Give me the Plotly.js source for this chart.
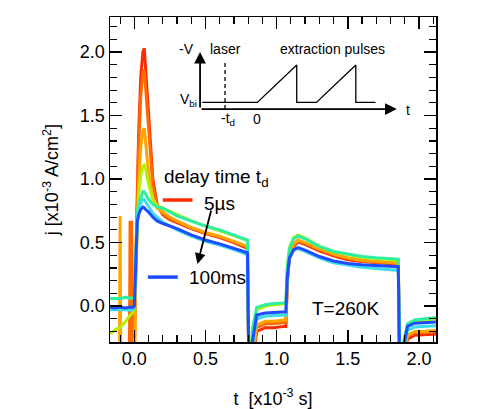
<!DOCTYPE html>
<html>
<head>
<meta charset="utf-8">
<script src="https://cdn.plot.ly/plotly-3.0.1.min.js"></script>
<style>
  html, body { margin: 0; padding: 0; background: #fff; }
  #myPlot { width: 479px; height: 409px; }
</style>
</head>
<body>
<div id="myPlot"></div>
<script>
// time axis [x10^-3 s], shared by all transients
const t = [-0.17, -0.14, -0.105, -0.1, -0.095, -0.06, -0.035, -0.03, -0.02, -0.01,
  0.0, 0.01, 0.02, 0.03, 0.045, 0.06, 0.07, 0.08, 0.1, 0.13,
  0.16, 0.2, 0.25, 0.3, 0.4, 0.5, 0.6, 0.7, 0.795, 0.805,
  0.815, 0.83, 0.86, 0.92, 0.98, 1.05, 1.065, 1.075, 1.09, 1.12,
  1.15, 1.2, 1.3, 1.4, 1.5, 1.6, 1.7, 1.8, 1.855, 1.865,
  1.875, 1.89, 1.92, 1.97, 2.03, 2.12];

// current density j [x10^-3 A/cm^2] for each delay time
const jRed = [-0.5, -0.5, -0.5, -0.5, -0.5, -0.5, -0.5, -0.5, 0.6, -0.5,
  -0.2, 0.35, 0.85, 1.35, 1.8, 2.0, 2.03, 1.85, 1.45, 1.0,
  0.8, 0.72, 0.68, 0.655, 0.61, 0.57, 0.54, 0.5, 0.455, -0.5,
  -0.5, -0.45, -0.2, -0.17, -0.17, -0.16, -0.16, 0.18, 0.38, 0.47,
  0.505, 0.485, 0.435, 0.395, 0.365, 0.35, 0.34, 0.33, 0.33, -0.5,
  -0.5, -0.45, -0.26, -0.23, -0.225, -0.22];
const jOrangeRed = [-0.5, -0.5, -0.5, -0.5, -0.5, -0.5, -0.5, 0.66, 0.66, -0.5,
  -0.5, 0.3, 0.8, 1.25, 1.65, 1.84, 1.86, 1.7, 1.35, 0.95,
  0.78, 0.73, 0.69, 0.665, 0.615, 0.575, 0.545, 0.505, 0.465, -0.5,
  -0.5, -0.45, -0.17, -0.14, -0.14, -0.13, -0.13, 0.2, 0.39, 0.48,
  0.515, 0.495, 0.445, 0.405, 0.375, 0.355, 0.345, 0.335, 0.335, -0.5,
  -0.5, -0.42, -0.24, -0.21, -0.21, -0.2];
const jOrange = [-0.5, -0.5, -0.5, 0.71, -0.5, -0.5, -0.5, -0.5, -0.5, -0.5,
  -0.5, 0.2, 0.6, 0.95, 1.25, 1.38, 1.4, 1.3, 1.05, 0.85,
  0.77, 0.74, 0.7, 0.67, 0.62, 0.58, 0.55, 0.51, 0.47, -0.5,
  -0.5, -0.4, -0.15, -0.12, -0.12, -0.11, -0.11, 0.2, 0.4, 0.49,
  0.52, 0.5, 0.45, 0.41, 0.38, 0.36, 0.35, 0.34, 0.34, -0.5,
  -0.5, -0.4, -0.23, -0.2, -0.2, -0.19];
const jYellowGreen = [-0.22, -0.19, -0.17, -0.165, -0.16, -0.12, -0.08, -0.075, -0.065, -0.05,
  0.0, 0.35, 0.65, 0.88, 1.03, 1.1, 1.11, 1.08, 0.96, 0.84,
  0.79, 0.77, 0.745, 0.715, 0.67, 0.63, 0.595, 0.555, 0.515, -0.5,
  -0.5, -0.2, -0.03, 0.0, 0.01, 0.015, 0.02, 0.3, 0.46, 0.54,
  0.56, 0.535, 0.47, 0.43, 0.405, 0.385, 0.375, 0.365, 0.36, -0.5,
  -0.5, -0.3, -0.15, -0.12, -0.11, -0.1];
const jGreen = [0.06, 0.06, 0.065, 0.06, 0.06, 0.07, 0.06, 0.065, 0.06, 0.06,
  0.07, 0.45, 0.72, 0.8, 0.86, 0.9, 0.9, 0.88, 0.84, 0.8,
  0.78, 0.77, 0.74, 0.71, 0.67, 0.63, 0.6, 0.56, 0.52, -0.5,
  -0.5, -0.18, -0.01, 0.01, 0.02, 0.025, 0.03, 0.3, 0.45, 0.53,
  0.55, 0.53, 0.47, 0.43, 0.41, 0.39, 0.38, 0.37, 0.37, -0.5,
  -0.5, -0.3, -0.14, -0.11, -0.1, -0.09];
const jCyan = [-0.03, -0.03, -0.025, -0.03, -0.03, -0.03, -0.035, -0.03, -0.03, -0.03,
  -0.02, 0.4, 0.68, 0.76, 0.81, 0.84, 0.84, 0.82, 0.78, 0.73,
  0.7, 0.66, 0.63, 0.6, 0.55, 0.51, 0.48, 0.445, 0.405, -0.5,
  -0.5, -0.3, -0.1, -0.08, -0.075, -0.07, -0.07, 0.22, 0.37, 0.44,
  0.455, 0.43, 0.38, 0.34, 0.32, 0.305, 0.295, 0.285, 0.28, -0.5,
  -0.5, -0.35, -0.19, -0.165, -0.16, -0.155];
const jBlue = [-0.01, -0.015, -0.01, -0.005, -0.01, -0.015, -0.01, -0.01, -0.005, -0.01,
  0.0, 0.4, 0.66, 0.72, 0.76, 0.78, 0.775, 0.76, 0.74, 0.7,
  0.67, 0.65, 0.63, 0.61, 0.56, 0.52, 0.49, 0.455, 0.42, -0.5,
  -0.5, -0.28, -0.07, -0.055, -0.05, -0.045, -0.045, 0.23, 0.38, 0.445,
  0.46, 0.44, 0.39, 0.355, 0.335, 0.325, 0.32, 0.315, 0.31, -0.5,
  -0.5, -0.33, -0.16, -0.135, -0.13, -0.125];

const series = [jRed, jOrangeRed, jOrange, jYellowGreen, jGreen, jCyan, jBlue];
const colors = ['#ff2a00', '#ff6a00', '#ffa500', '#b4f000', '#2cf0a0', '#3cdcea', '#1e4cff'];

// inset: voltage schematic (arbitrary units)
const pulseT = [-1.4, 0, 1, 1, 1.5, 2.5, 2.5, 3.0];
const pulseV = [0.15, 0.15, 1, 0.15, 0.15, 1, 0.15, 0.15];
const laserT = [-0.82, -0.82];
const laserV = [0, 1.07];

const font = 'Liberation Sans, Arial, Helvetica, sans-serif';

const traces = series.map((j, i) => ({
  x: t,
  y: j,
  mode: 'lines',
  line: { color: colors[i], width: 3 },
  showlegend: false,
  hoverinfo: 'skip'
}));

traces.push({
  x: pulseT, y: pulseV, xaxis: 'x2', yaxis: 'y2',
  mode: 'lines', line: { color: '#000', width: 1.3 }, showlegend: false
});
traces.push({
  x: laserT, y: laserV, xaxis: 'x2', yaxis: 'y2',
  mode: 'lines', line: { color: '#000', width: 1.3, dash: '4px,3px' }, showlegend: false
});

const axisStyle = {
  showline: true, linecolor: '#000', linewidth: 1.5, mirror: 'ticks',
  ticks: 'inside', ticklen: 12, tickwidth: 1.5, tickcolor: '#000',
  showgrid: false, zeroline: false, dtick: 0.5, tickformat: '.1f',
  tickfont: { family: font, size: 18, color: '#000' },
  minor: { dtick: 0.1, ticks: 'inside', ticklen: 7, tickwidth: 1.2, tickcolor: '#000', showgrid: false }
};

const ann = (x, y, text, opts) => Object.assign({
  x, y, text, showarrow: false, xanchor: 'left', yanchor: 'middle',
  font: { family: font, size: 19, color: '#000' }
}, opts);

const inset = (x, y, text, opts) => ann(x, y, text, Object.assign({
  xref: 'x2', yref: 'y2', xanchor: 'center', font: { family: font, size: 14, color: '#000' }
}, opts));

const layout = {
  width: 479, height: 409,
  margin: { l: 110, r: 43, t: 17, b: 67 },
  paper_bgcolor: '#fff', plot_bgcolor: '#fff',
  xaxis: Object.assign({}, axisStyle, {
    range: [-0.171, 2.12],
    title: { text: 't  [x10<sup>-3</sup> s]', font: { family: font, size: 18, color: '#000' }, standoff: 24 }
  }),
  yaxis: Object.assign({}, axisStyle, {
    range: [-0.283, 2.276],
    title: { text: 'j [x10<sup>-3</sup> A/cm<sup>2</sup>]', font: { family: font, size: 18, color: '#000' }, standoff: 16 }
  }),
  xaxis2: { domain: [0.2586, 0.9353], range: [-1.6, 4.0], anchor: 'y2', visible: false },
  yaxis2: { domain: [0.6695, 0.9129], range: [-0.35, 1.45], anchor: 'x2', visible: false },
  shapes: [
    { type: 'line', xref: 'x', yref: 'y', x0: 0.2, x1: 0.409, y0: 0.835, y1: 0.835, line: { color: colors[0], width: 3.5 } },
    { type: 'line', xref: 'x', yref: 'y', x0: 0.095, x1: 0.305, y0: 0.228, y1: 0.228, line: { color: colors[6], width: 3.5 } }
  ],
  annotations: [
    ann(0.193, 1.008, 'delay time t<sub>d</sub>'),
    ann(0.472, 0.811, '5µs'),
    ann(0.367, 0.228, '100ms'),
    ann(1.237, -0.018, 'T=260K'),
    { x: 0.444, y: 0.331, ax: 14, ay: -55, text: '', showarrow: true,
      arrowhead: 2, arrowsize: 1.2, arrowwidth: 1.8, arrowcolor: '#000' },
    // inset axes
    { xref: 'x2', yref: 'y2', axref: 'x2', ayref: 'y2', x: 3.54, y: 0, ax: -1.454, ay: 0,
      text: '', showarrow: true, arrowhead: 2, arrowsize: 1.3, arrowwidth: 1.8, arrowcolor: '#000' },
    { xref: 'x2', yref: 'y2', axref: 'x2', ayref: 'y2', x: -1.454, y: 1.3, ax: -1.454, ay: 0,
      text: '', showarrow: true, arrowhead: 2, arrowsize: 1.3, arrowwidth: 1.8, arrowcolor: '#000' },
    inset(-1.454, 1.37, '-V', { xanchor: 'right', xshift: -4 }),
    inset(-0.82, 1.37, 'laser'),
    inset(1.92, 1.37, 'extraction pulses'),
    inset(-1.454, 0.2, 'V<sub>bi</sub>', { xanchor: 'right', xshift: -1 }),
    inset(-0.74, -0.23, '-t<sub>d</sub>'),
    inset(0, -0.23, '0'),
    inset(3.82, -0.02, 't')
  ]
};

Plotly.newPlot('myPlot', traces, layout, { staticPlot: true });
</script>
</body>
</html>
